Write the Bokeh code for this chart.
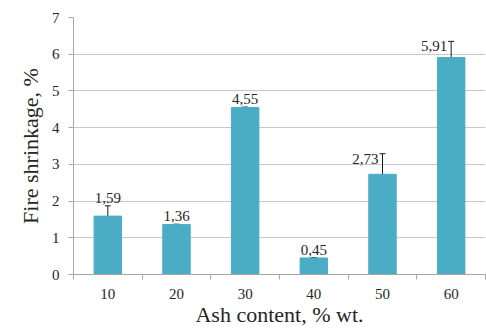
import numpy as np
from bokeh.plotting import figure
from bokeh.models import (ColumnDataSource, FixedTicker, Range1d, Whisker,
                          TeeHead, LabelSet)
from bokeh.core.properties import value
from bokeh.embed import file_html
from bokeh.resources import INLINE

# Fire shrinkage by ash content
ash_content = ["10", "20", "30", "40", "50", "60"]
shrinkage = [1.59, 1.36, 4.55, 0.45, 2.73, 5.91]
shrinkage_err = [0.28, 0.01, 0.01, 0.01, 0.56, 0.44]
y_ticks = [0, 1, 2, 3, 4, 5, 6, 7]

FONT = "Liberation Serif"
TEXT = "#262626"
BAR = "#4BACC6"

n = len(ash_content)
xc = np.arange(n) + 0.5
vals = np.array(shrinkage)
errs = np.array(shrinkage_err)
labels = [f"{v:.2f}".replace(".", ",") for v in shrinkage]

src = ColumnDataSource(dict(x=xc, top=vals, upper=vals + errs,
                            lower=vals - errs, label=labels))

p = figure(width=486, height=329, output_backend="svg", toolbar_location=None,
           x_range=Range1d(0, n), y_range=Range1d(0, 7))
p.min_border_left = 73
p.min_border_right = 1
p.min_border_top = 17
p.min_border_bottom = 0
p.outline_line_color = None
p.background_fill_color = "white"

p.vbar(x="x", top="top", width=0.4, source=src, fill_color=BAR,
       line_color=BAR)

whisk = Whisker(source=src, base="x", upper="upper", lower="lower",
                line_color="#1a1a1a", line_width=1,
                upper_head=TeeHead(size=6, line_color="#1a1a1a", line_width=1),
                lower_head=TeeHead(size=6, line_color="#1a1a1a", line_width=1))
p.add_layout(whisk)

# value labels: above the bar for small errors, left of the whisker for large ones
big = errs > 0.3
above = ColumnDataSource(dict(x=xc[~big], y=(vals + errs)[~big],
                              label=[l for l, b in zip(labels, big) if not b]))
side = ColumnDataSource(dict(x=xc[big], y=(vals + errs)[big],
                             label=[l for l, b in zip(labels, big) if b]))
p.add_layout(LabelSet(x="x", y="y", text="label", source=above,
                      text_align="center", text_baseline="bottom", y_offset=3,
                      text_font=value(FONT), text_font_size="15px",
                      text_color=TEXT))
p.add_layout(LabelSet(x="x", y="y", text="label", source=side,
                      text_align="right", text_baseline="middle", x_offset=-4,
                      y_offset=-5, text_font=value(FONT), text_font_size="15px",
                      text_color=TEXT))

# x axis: labels at category centres, ticks at category boundaries
p.xaxis.ticker = FixedTicker(ticks=list(xc), minor_ticks=list(range(n + 1)))
p.xaxis.major_label_overrides = {float(x): c for x, c in zip(xc, ash_content)}
p.xaxis.major_tick_in = 0
p.xaxis.major_tick_out = 0
p.xaxis.minor_tick_in = 0
p.xaxis.minor_tick_out = 5
p.xaxis.minor_tick_line_color = "#a6a6a6"
p.xaxis.major_label_standoff = 9
p.xaxis.axis_label = "Ash content, % wt."
p.xaxis.axis_label_standoff = 0

p.yaxis.ticker = FixedTicker(ticks=y_ticks)
p.yaxis.major_tick_in = 0
p.yaxis.major_tick_out = 5
p.yaxis.minor_tick_line_color = None
p.yaxis.major_tick_line_color = "#a6a6a6"
p.yaxis.major_label_standoff = 9
p.yaxis.axis_label = "Fire shrinkage, %"
p.yaxis.axis_label_standoff = 6

for ax in (p.xaxis, p.yaxis):
    ax.axis_line_color = "#a6a6a6"
    ax.major_label_text_font = FONT
    ax.major_label_text_font_size = "15px"
    ax.major_label_text_color = TEXT
    ax.axis_label_text_font = FONT
    ax.axis_label_text_font_size = "22px"
    ax.axis_label_text_font_style = "normal"
    ax.axis_label_text_color = TEXT

p.xgrid.grid_line_color = None
p.ygrid.grid_line_color = "#c8c8c8"
p.ygrid.ticker = FixedTicker(ticks=y_ticks)

open("out.html", "w").write(file_html(p, INLINE))
